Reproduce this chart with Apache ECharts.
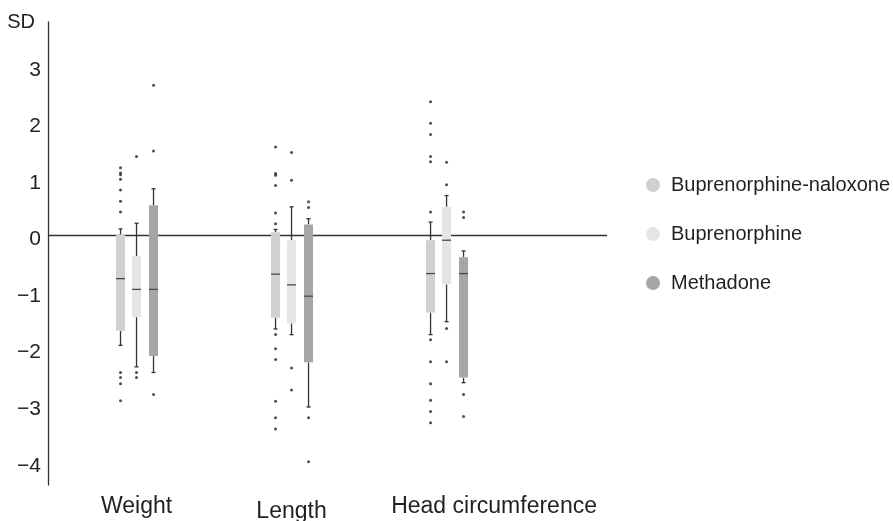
<!DOCTYPE html>
<html><head><meta charset="utf-8">
<script src="https://cdn.jsdelivr.net/npm/echarts@6/dist/echarts.min.js"></script>
<style>html,body{margin:0;padding:0;background:#fff}#c{width:893px;height:521px}</style>
</head><body><div id="c"></div>
<script>
const categories = ['Weight', 'Length', 'Head circumference'];
const seriesNames = ['Buprenorphine-naloxone', 'Buprenorphine', 'Methadone'];
const yTicks = [-4, -3, -2, -1, 0, 1, 2, 3];
// [min, q1, median, q3, max] per category
const bupNalBoxes = [[-1.95, -1.69, -0.77, 0.01, 0.11], [-1.66, -1.46, -0.69, 0.05, 0.10], [-1.76, -1.37, -0.68, -0.09, 0.23]];
const bupBoxes = [[-2.33, -1.45, -0.96, -0.37, 0.21], [-1.76, -1.56, -0.88, -0.09, 0.50], [-1.53, -0.87, -0.09, 0.50, 0.70]];
const methBoxes = [[-2.43, -2.14, -0.96, 0.53, 0.82], [-3.04, -2.25, -1.08, 0.19, 0.29], [-2.61, -2.52, -0.68, -0.39, -0.28]];
// outliers per category
const bupNalOutliers = [[1.19, 1.10, 1.07, 0.99, 0.80, 0.60, 0.41, -2.43, -2.52, -2.63, -2.93], [1.56, 1.09, 1.06, 0.88, 0.39, 0.20, -1.76, -2.01, -2.20, -2.94, -3.23, -3.43], [2.36, 1.98, 1.78, 1.39, 1.30, 0.41, -1.85, -2.24, -2.63, -2.92, -3.12, -3.32]];
const bupOutliers = [[1.39, -2.43, -2.52], [1.46, 0.97, -2.35, -2.74], [1.29, 0.89, -1.65, -2.24]];
const methOutliers = [[2.65, 1.49, -2.82], [0.59, 0.49, -3.23, -4.01], [0.41, 0.31, -2.82, -3.21]];

const COLORS = ['#d0d0d2', '#e5e5e7', '#a6a6a8'];
const OFFSETS = [-16, 0, 17];
const BOX_W = 9, CAP_W = 4;
const WHISKER = '#333333', MEDIAN = '#4a4a4a', TEXT = '#231f20';
const FONT = '"Liberation Sans", Arial, sans-serif';

const boxSets = [bupNalBoxes, bupBoxes, methBoxes];
const outSets = [bupNalOutliers, bupOutliers, methOutliers];

function makeRender(offset) {
  return function (params, api) {
    const c = api.value(0);
    const pMin = api.coord([c, api.value(1)]);
    const pQ1 = api.coord([c, api.value(2)]);
    const pMed = api.coord([c, api.value(3)]);
    const pQ3 = api.coord([c, api.value(4)]);
    const pMax = api.coord([c, api.value(5)]);
    const x = pMin[0] + offset;
    const hw = BOX_W / 2, cw = CAP_W / 2;
    const ls = { stroke: WHISKER, lineWidth: 1.3 };
    return {
      type: 'group', children: [
        { type: 'line', shape: { x1: x, y1: pQ3[1], x2: x, y2: pMax[1] }, style: ls },
        { type: 'line', shape: { x1: x, y1: pQ1[1], x2: x, y2: pMin[1] }, style: ls },
        { type: 'line', shape: { x1: x - cw, y1: pMax[1], x2: x + cw, y2: pMax[1] }, style: ls },
        { type: 'line', shape: { x1: x - cw, y1: pMin[1], x2: x + cw, y2: pMin[1] }, style: ls },
        { type: 'rect', shape: { x: x - hw, y: pQ3[1], width: BOX_W, height: pQ1[1] - pQ3[1] }, style: { fill: api.visual('color') } },
        { type: 'line', shape: { x1: x - hw, y1: pMed[1], x2: x + hw, y2: pMed[1] }, style: { stroke: MEDIAN, lineWidth: 1.3 } }
      ]
    };
  };
}

const series = [];
seriesNames.forEach(function (name, i) {
  series.push({
    type: 'custom', name: name, z: 5,
    itemStyle: { color: COLORS[i] },
    encode: { x: 0, y: [1, 2, 3, 4, 5] },
    data: boxSets[i].map(function (b, ci) { return [ci].concat(b); }),
    renderItem: makeRender(OFFSETS[i])
  });
});
seriesNames.forEach(function (name, i) {
  const pts = [];
  outSets[i].forEach(function (list, ci) { list.forEach(function (v) { pts.push([ci, v]); }); });
  const s = {
    type: 'scatter', name: name + ' outliers', z: 6,
    symbol: 'circle', symbolSize: 3, symbolOffset: [OFFSETS[i], 0],
    itemStyle: { color: '#222' },
    silent: true,
    data: pts
  };
  if (i === 0) {
    s.markLine = {
      silent: true, symbol: 'none', z: 1,
      label: { show: false },
      lineStyle: { color: WHISKER, width: 1.3, type: 'solid' },
      data: [{ yAxis: 0 }]
    };
  }
  series.push(s);
});

const chart = echarts.init(document.getElementById('c'), null, { renderer: 'canvas' });
chart.setOption({
  animation: false,
  backgroundColor: '#fff',
  textStyle: { fontFamily: FONT, color: TEXT },
  grid: { left: 48, right: 286, top: 22, bottom: 36, containLabel: false, outerBoundsMode: 'none' },
  legend: {
    orient: 'vertical', left: 641, top: 170,
    data: seriesNames, icon: 'circle',
    itemWidth: 26, itemHeight: 14, itemGap: 29,
    textStyle: { fontSize: 20, color: TEXT, fontFamily: FONT },
    selectedMode: false
  },
  xAxis: {
    type: 'value', min: -0.571, max: 3.035,
    axisLine: { show: false, onZero: false }, axisTick: { show: false }, splitLine: { show: false },
    axisLabel: {
      customValues: [0, 1, 2], margin: 10,
      fontSize: 23, color: TEXT, fontFamily: FONT,
      formatter: function (v) {
        const i = Math.round(v);
        if (i === 1) return '{l|' + categories[i] + '}';
        if (i === 2) return '{h|' + categories[i] + '}';
        return categories[i];
      },
      rich: {
        l: { fontSize: 23, color: TEXT, fontFamily: FONT, padding: [5, 0, 0, 0] },
        h: { fontSize: 23, color: TEXT, fontFamily: FONT, padding: [0, 0, 0, 95] }
      }
    }
  },
  yAxis: {
    type: 'value', min: -4.42, max: 3.77,
    name: 'SD', nameLocation: 'end', nameGap: 0,
    nameTextStyle: { fontSize: 20, color: TEXT, fontFamily: FONT, align: 'right', verticalAlign: 'middle', padding: [0, 13, 0, 0] },
    axisLine: { show: true, onZero: false, lineStyle: { color: WHISKER, width: 1.3 } },
    axisTick: { show: false }, splitLine: { show: false },
    axisLabel: {
      customValues: yTicks, margin: 7, fontSize: 21, color: TEXT, fontFamily: FONT,
      verticalAlign: 'top', lineHeight: 9,
      formatter: function (v) { return String(v).replace('-', '\u2212'); }
    }
  },
  series: series
});
</script>
</body></html>
